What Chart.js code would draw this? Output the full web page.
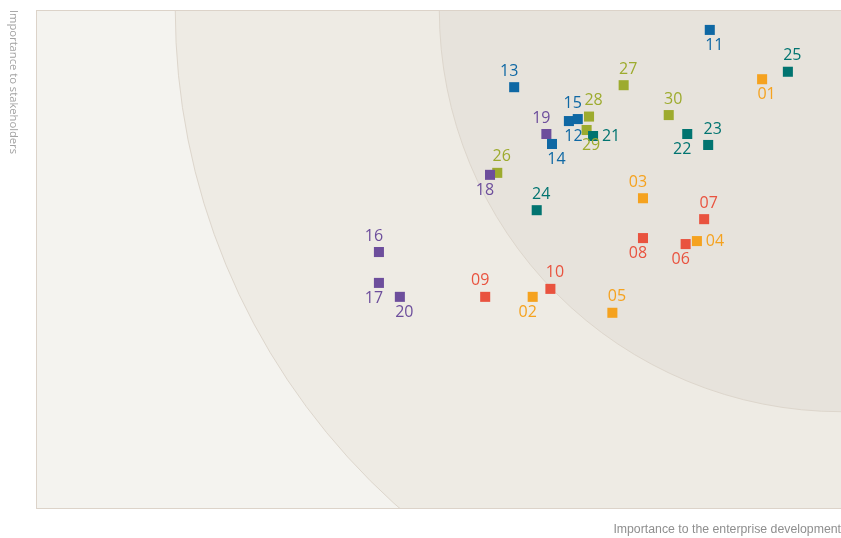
<!DOCTYPE html>
<html>
<head>
<meta charset="utf-8">
<script src="https://cdn.jsdelivr.net/npm/chart.js@4/dist/chart.umd.min.js"></script>
<style>
  html, body { margin: 0; padding: 0; background: #fff; }
  #wrap { width: 841px; height: 538px; position: relative; }
</style>
</head>
<body>
<div id="wrap"><canvas id="matriz"></canvas></div>
<script>
// Temas por grupo (ids y valores, escala 0-100)
const idsNaranja = ["01", "02", "03", "04", "05"]
const xNaranja = [90.2, 61.7, 75.4, 82.1, 71.6]
const yNaranja = [86.1, 42.4, 62.2, 53.6, 39.2]

const idsRojo = ["06", "07", "08", "09", "10"]
const xRojo = [80.7, 83.0, 75.4, 55.8, 63.9]
const yRojo = [53.0, 58.0, 54.2, 42.4, 44.0]

const idsAzul = ["11", "12", "13", "14", "15"]
const xAzul = [83.7, 66.2, 59.4, 64.1, 67.3]
const yAzul = [96.0, 77.7, 84.5, 73.1, 78.1]

const idsMorado = ["16", "17", "18", "19", "20"]
const xMorado = [42.6, 42.6, 56.4, 63.4, 45.2]
const yMorado = [51.4, 45.2, 66.9, 75.1, 42.4]

const idsVerdeAzul = ["21", "22", "23", "24", "25"]
const xVerdeAzul = [69.2, 80.9, 83.5, 62.2, 93.4]
const yVerdeAzul = [74.7, 75.1, 72.9, 59.8, 87.6]

const idsOliva = ["26", "27", "28", "29", "30"]
const xOliva = [57.3, 73.0, 68.7, 68.4, 78.6]
const yOliva = [67.3, 84.9, 78.6, 75.9, 78.9]

// Donde va cada etiqueta respecto al punto
const posEtiqueta = {
  "01": "br", "02": "bl", "03": "al", "04": "r", "05": "ar",
  "06": "bl", "07": "ar", "08": "bl", "09": "al", "10": "ar",
  "11": "br", "12": "br", "13": "al", "14": "br", "15": "al",
  "16": "al", "17": "bl", "18": "bl", "19": "al", "20": "br",
  "21": "r", "22": "bl", "23": "ar", "24": "ar", "25": "ar",
  "26": "ar", "27": "ar", "28": "ar", "29": "br", "30": "ar",
}
const desplazamientos = {
  ar: [4.5, -16], al: [-5, -16], br: [4.5, 15.5], bl: [-5, 15.5], r: [18, 0],
}

const colores = {
  naranja: "#f5a21f",
  rojo: "#e9533f",
  azul: "#0f68a4",
  morado: "#6d4e9c",
  verdeAzul: "#017470",
  oliva: "#9dab2e",
}

function puntos(xs, ys) {
  return xs.map((x, i) => ({ x: x, y: ys[i] }))
}

function serie(nombre, ids, xs, ys, color) {
  return {
    label: nombre,
    ids: ids,
    data: puntos(xs, ys),
    backgroundColor: color,
    borderWidth: 0,
    pointStyle: "rect",
    pointRadius: 7.1,
    pointHoverRadius: 7.1,
  }
}

// Fondo: cuartos de circulo desde la esquina superior derecha
const fondoCirculos = {
  id: "fondoCirculos",
  beforeDatasetsDraw(chart) {
    const { ctx, chartArea, scales } = chart
    const { left, top, right, bottom } = chartArea
    const rExt = right - scales.x.getPixelForValue(17.3)
    const rInt = right - scales.x.getPixelForValue(50.1)
    ctx.save()
    ctx.beginPath()
    ctx.rect(left, top, right - left, bottom - top)
    ctx.clip()
    ctx.fillStyle = "#f4f3ef"
    ctx.fillRect(left, top, right - left, bottom - top)
    ctx.lineWidth = 1
    ctx.strokeStyle = "#ddd6cc"
    ctx.beginPath()
    ctx.arc(right, top, rExt, 0, Math.PI * 2)
    ctx.fillStyle = "#eeebe4"
    ctx.fill()
    ctx.stroke()
    ctx.beginPath()
    ctx.arc(right, top, rInt, 0, Math.PI * 2)
    ctx.fillStyle = "#e7e3dc"
    ctx.fill()
    ctx.stroke()
    ctx.restore()
    // marco
    ctx.save()
    ctx.strokeStyle = "#dcd3c9"
    ctx.lineWidth = 1
    ctx.strokeRect(left + 0.5, top + 0.5, right - left, bottom - top)
    ctx.restore()
  },
  afterDatasetsDraw(chart) {
    const { ctx } = chart
    ctx.save()
    ctx.font = "16px 'Open Sans', sans-serif"
    ctx.textAlign = "center"
    ctx.textBaseline = "middle"
    chart.data.datasets.forEach((ds, i) => {
      const meta = chart.getDatasetMeta(i)
      meta.data.forEach((el, j) => {
        const id = ds.ids[j]
        const d = desplazamientos[posEtiqueta[id]]
        ctx.fillStyle = ds.backgroundColor
        ctx.fillText(id, el.x + d[0], el.y + d[1])
      })
    })
    ctx.restore()
  },
  afterDraw(chart) {
    const { ctx, chartArea } = chart
    ctx.save()
    ctx.fillStyle = "#a3a3a3"
    ctx.font = "11.2px 'Open Sans', sans-serif"
    ctx.textBaseline = "middle"
    ctx.textAlign = "left"
    ctx.translate(13, chartArea.top)
    ctx.rotate(Math.PI / 2)
    ctx.fillText("Importance to stakeholders", 0, 0)
    ctx.restore()
    ctx.save()
    ctx.fillStyle = "#8f8f8f"
    ctx.font = "12.3px 'Liberation Sans Narrow', 'Liberation Sans', sans-serif"
    ctx.textBaseline = "middle"
    ctx.textAlign = "right"
    ctx.fillText("Importance to the enterprise development", chartArea.right, 530)
    ctx.restore()
  },
}

const ctx = document.getElementById("matriz").getContext("2d")
const grafico = new Chart(ctx, {
  type: "scatter",
  data: {
    datasets: [
      serie("Naranja", idsNaranja, xNaranja, yNaranja, colores.naranja),
      serie("Rojo", idsRojo, xRojo, yRojo, colores.rojo),
      serie("Azul", idsAzul, xAzul, yAzul, colores.azul),
      serie("Morado", idsMorado, xMorado, yMorado, colores.morado),
      serie("VerdeAzul", idsVerdeAzul, xVerdeAzul, yVerdeAzul, colores.verdeAzul),
      serie("Oliva", idsOliva, xOliva, yOliva, colores.oliva),
    ],
  },
  options: {
    responsive: true,
    maintainAspectRatio: false,
    animation: false,
    layout: { autoPadding: false, padding: { left: 36, top: 10, right: 0, bottom: 30 } },
    plugins: {
      legend: { display: false },
      tooltip: { enabled: false },
    },
    scales: {
      x: { display: false, min: 0, max: 100 },
      y: { display: false, min: 0, max: 100 },
    },
  },
  plugins: [fondoCirculos],
})
</script>
</body>
</html>
